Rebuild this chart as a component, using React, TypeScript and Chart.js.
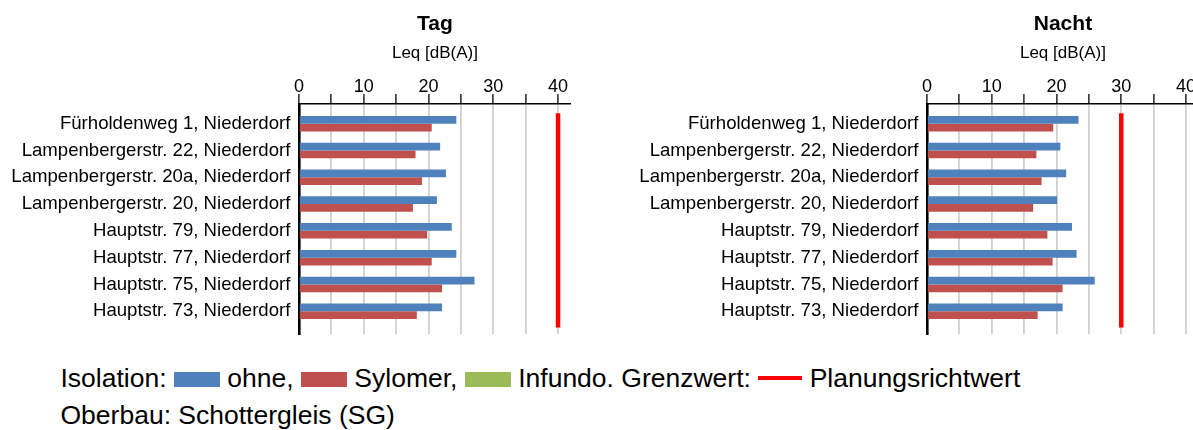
import React, { useEffect, useRef } from "react";
import { Chart, registerables } from "chart.js";

Chart.register(...registerables);

const FONT = '"Liberation Sans", Arial, Helvetica, sans-serif';

const categories = [
  "Fürholdenweg 1, Niederdorf",
  "Lampenbergerstr. 22, Niederdorf",
  "Lampenbergerstr. 20a, Niederdorf",
  "Lampenbergerstr. 20, Niederdorf",
  "Hauptstr. 79, Niederdorf",
  "Hauptstr. 77, Niederdorf",
  "Hauptstr. 75, Niederdorf",
  "Hauptstr. 73, Niederdorf",
];

const tagOhne = [24.3, 21.8, 22.7, 21.3, 23.6, 24.3, 27.1, 22.1];
const tagSylomer = [20.5, 18.0, 19.0, 17.6, 19.8, 20.5, 22.1, 18.2];
const nachtOhne = [23.4, 20.6, 21.5, 20.1, 22.4, 23.1, 25.9, 20.95];
const nachtSylomer = [19.5, 16.9, 17.7, 16.4, 18.6, 19.4, 20.95, 17.1];

const planTag = 40;
const planNacht = 30;
// vertical extent of the limit line, in category-index units
const planSpan = [-0.39, 7.61];

const xMin = 0;
const xMax = 42;
const xStep = 5;
const xLabelStep = 10;

const BLUE = "#4F81BD";
const RED = "#C0504D";
const GREEN = "#9BBB59";
const LIMIT = "#FF0000";

const panelTitle = {
  id: "panelTitle",
  afterDraw(chart: any, _args: any, opts: any) {
    const { ctx, chartArea } = chart;
    ctx.save();
    ctx.font = `bold 21px ${FONT}`;
    ctx.fillStyle = "#000";
    ctx.textAlign = "center";
    ctx.textBaseline = "alphabetic";
    ctx.fillText(opts.text, (chartArea.left + chartArea.right) / 2, 30);
    ctx.restore();
  },
};

function makeConfig(title: string, ohne: number[], sylomer: number[], plan: number): any {
  const barOpts = { borderWidth: 0, categoryPercentage: 15.5 / 26.8, barPercentage: 1 };
  return {
    type: "bar",
    data: {
      datasets: [
        { label: "ohne", data: ohne.map((v, i) => ({ x: v, y: i })), backgroundColor: BLUE, ...barOpts },
        { label: "Sylomer", data: sylomer.map((v, i) => ({ x: v, y: i })), backgroundColor: RED, ...barOpts },
        {
          type: "line",
          label: "Planungsrichtwert",
          data: planSpan.map((y) => ({ x: plan, y })),
          borderColor: LIMIT,
          backgroundColor: LIMIT,
          borderWidth: 4.5,
          pointRadius: 0,
          fill: false,
          tension: 0,
        },
      ],
    },
    options: {
      indexAxis: "y",
      responsive: false,
      animation: false,
      layout: { padding: { left: 0, right: 0, top: 0, bottom: 5.7 } },
      plugins: {
        legend: { display: false },
        tooltip: { enabled: false },
        panelTitle: { text: title },
      },
      scales: {
        x: {
          type: "linear",
          position: "top",
          min: xMin,
          max: xMax,
          offset: false,
          ticks: {
            stepSize: xStep,
            includeBounds: false,
            autoSkip: false,
            maxRotation: 0,
            color: "#000",
            font: { family: FONT, size: 18, lineHeight: 1 },
            padding: -2.2,
            callback: (v: number) => (v % xLabelStep === 0 ? String(v) : ""),
          },
          grid: {
            color: "#d0d0d0",
            lineWidth: 1.8,
            tickColor: "#000",
            tickLength: 10,
            tickWidth: 1.3,
            offset: false,
          },
          border: { display: true, color: "#000", width: 1.6 },
          title: {
            display: true,
            text: "Leq [dB(A)]",
            color: "#000",
            font: { family: FONT, size: 17 },
            padding: { top: 43.5, bottom: 0 },
          },
          afterFit: (s: any) => {
            s.height = 104;
            s.paddingLeft = 0;
            s.paddingRight = 0;
            s.paddingTop = 0;
            s.paddingBottom = 0;
          },
        },
        y: {
          type: "linear",
          reverse: true,
          min: -0.735,
          max: 7.86,
          offset: false,
          afterBuildTicks: (s: any) => {
            s.ticks = categories.map((_, i) => ({ value: i }));
          },
          ticks: {
            autoSkip: false,
            color: "#000",
            font: { family: FONT, size: 18.6 },
            padding: 8.5,
            callback: (v: number) => categories[v] ?? "",
          },
          grid: { display: false, drawTicks: false, offset: false },
          border: { display: true, color: "#000", width: 2.6 },
          afterFit: (s: any) => {
            s.width = 298.9;
            s.paddingLeft = 0;
            s.paddingRight = 0;
            s.paddingTop = 0;
            s.paddingBottom = 0;
          },
        },
      },
    },
    plugins: [panelTitle],
  };
}

const boxStyle = (color: string): React.CSSProperties => ({
  display: "inline-block",
  width: 46,
  height: 15,
  background: color,
  verticalAlign: "baseline",
});

const rowStyle = (top: number): React.CSSProperties => ({
  position: "absolute",
  left: 60.5,
  top,
  font: `26.5px ${FONT}`,
  lineHeight: "29.6px",
  whiteSpace: "nowrap",
  color: "#000",
});

export default function App() {
  const leftRef = useRef<HTMLCanvasElement>(null);
  const rightRef = useRef<HTMLCanvasElement>(null);

  useEffect(() => {
    const c1 = new Chart(leftRef.current as any, makeConfig("Tag", tagOhne, tagSylomer, planTag));
    const c2 = new Chart(rightRef.current as any, makeConfig("Nacht", nachtOhne, nachtSylomer, planNacht));
    return () => {
      c1.destroy();
      c2.destroy();
    };
  }, []);

  return (
    <div
      style={{
        position: "fixed",
        left: 0,
        top: 0,
        width: 1193,
        height: 430,
        overflow: "hidden",
        background: "#fff",
      }}
    >
      <canvas
        ref={leftRef}
        width={571}
        height={340}
        style={{ position: "absolute", left: 0, top: 0, width: 571, height: 340 }}
      />
      <canvas
        ref={rightRef}
        width={571}
        height={340}
        style={{ position: "absolute", left: 628.4, top: 0, width: 571, height: 340 }}
      />
      <div style={rowStyle(364)}>
        Isolation: <span style={boxStyle(BLUE)} /> ohne, <span style={boxStyle(RED)} /> Sylomer,{" "}
        <span style={boxStyle(GREEN)} /> Infundo. Grenzwert:{" "}
        <span
          style={{ display: "inline-block", width: 44, height: 4, background: LIMIT, verticalAlign: "7px" }}
        />{" "}
        Planungsrichtwert
      </div>
      <div style={rowStyle(401)}>Oberbau: Schottergleis (SG)</div>
    </div>
  );
}
